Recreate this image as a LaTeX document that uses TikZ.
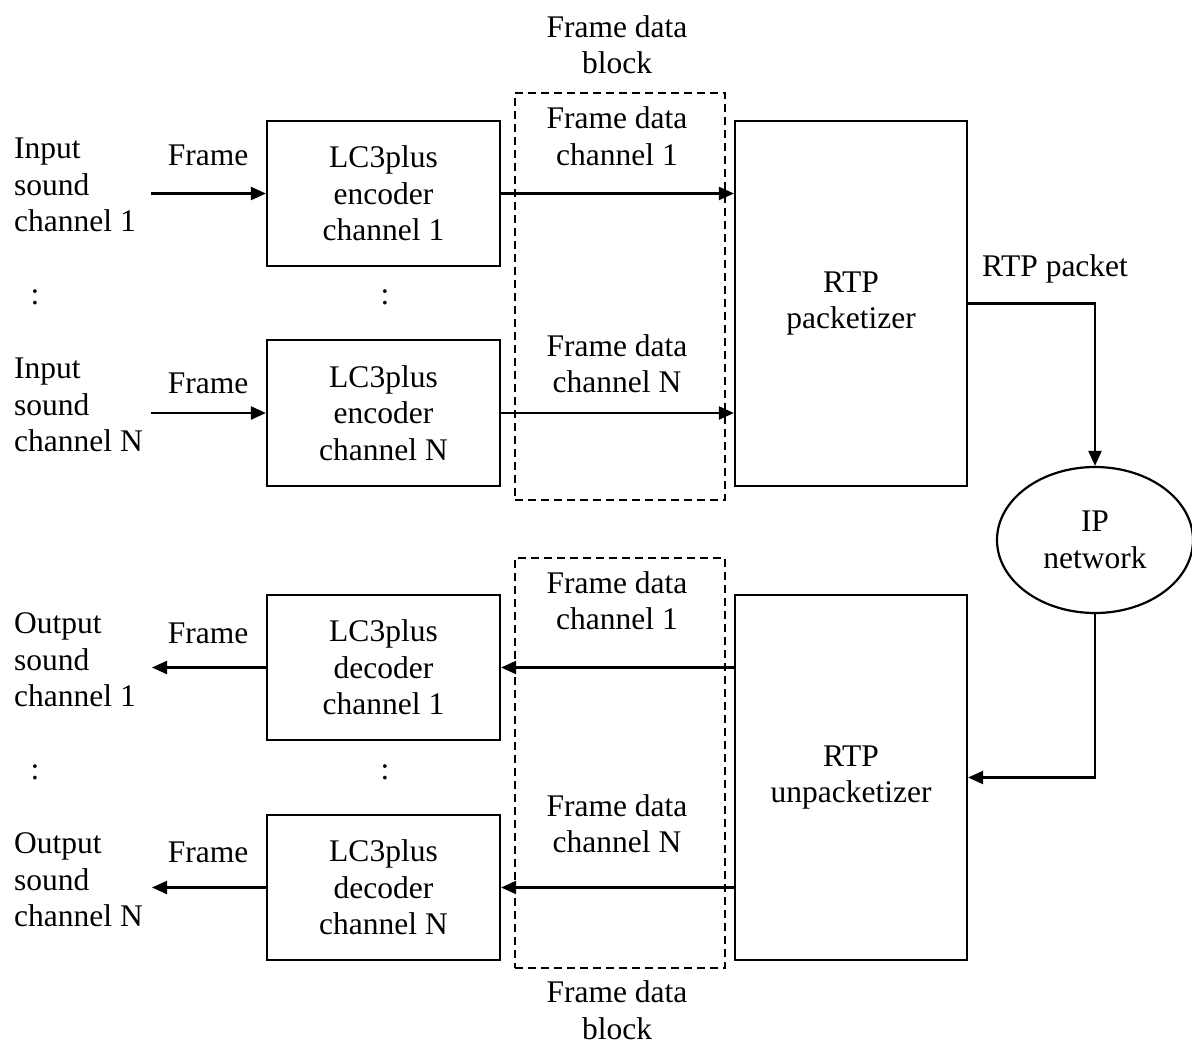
\documentclass[tikz,border=0pt]{standalone}
\usepackage{fontspec}
\setmainfont{Liberation Serif}
\usetikzlibrary{arrows.meta,shapes.geometric}
\begin{document}
\begin{tikzpicture}[x=1pt,y=-1pt,
  every node/.style={font=\fontsize{31.5}{36.5}\selectfont, inner sep=0pt, align=center},
  blk/.style={draw, line width=2.2pt, rectangle, minimum width=233pt},
  dbox/.style={draw, line width=2pt, dash pattern=on 8pt off 5pt, rectangle, minimum width=210pt},
  arr/.style={line width=2.2pt, -{Triangle[length=15pt,width=13pt]}},
  lbl/.style={anchor=west, align=left}]
\useasboundingbox (0,0) rectangle (1192,1045);
% dashed frame data blocks
\node[dbox, minimum height=407pt] (db1) at (620,296.5) {};
\node[dbox, minimum height=410pt] (db2) at (620,763) {};
% encoders
\node[blk, minimum height=145pt] (enc1) at (383.5,193.5) {LC3plus\\encoder\\channel 1};
\node[blk, minimum height=146pt] (encN) at (383.5,413) {LC3plus\\encoder\\channel N};
\node[blk, minimum height=145pt] (dec1) at (383.5,667.5) {LC3plus\\decoder\\channel 1};
\node[blk, minimum height=145pt] (decN) at (383.5,887.5) {LC3plus\\decoder\\channel N};
% RTP
\node[blk, minimum width=232pt, minimum height=365pt] (pack) at (851,303.5) {RTP\\packetizer};
\node[blk, minimum width=232pt, minimum height=365pt] (unpack) at (851,777.5) {RTP\\unpacketizer};
% IP network
\node[draw, line width=2.2pt, ellipse, minimum width=196pt, minimum height=146pt] (ip) at (1095,540) {IP\\network};
% left labels
\node[lbl] (in1) at (14,185) {Input\\sound\\channel 1};
\node[lbl] (inN) at (14,405) {Input\\sound\\channel N};
\node[lbl] (out1) at (14,660) {Output\\sound\\channel 1};
\node[lbl] (outN) at (14,880) {Output\\sound\\channel N};
\node (fr1) at (208,155) {Frame};
\node (frN) at (208,383) {Frame};
\node (fr3) at (208,633) {Frame};
\node (fr4) at (208,852) {Frame};
\node (c1) at (35,297) {:};
\node (c2) at (385,297) {:};
\node (c3) at (35,772) {:};
\node (c4) at (385,772) {:};
% frame data labels
\node (fdb1) at (617,44.5) {Frame data\\block};
\node (fd1) at (617,136) {Frame data\\channel 1};
\node (fdN) at (617,363.5) {Frame data\\channel N};
\node (fd3) at (617,600.5) {Frame data\\channel 1};
\node (fd4) at (617,823.5) {Frame data\\channel N};
\node (fdb2) at (617,1010) {Frame data\\block};
\node (rtpp) at (1055,269) {RTP packet};
% arrow free ends
\coordinate (a1) at (151,193.5);
\coordinate (aN) at (151,413);
\coordinate (a3) at (152,667.5);
\coordinate (a4) at (152,887.5);
% connectors
\draw[arr] (a1) -- (enc1.west);
\draw[arr] (aN) -- (encN.west);
\draw[arr] (enc1.east) -- (pack.west |- enc1.east);
\draw[arr] (encN.east) -- (pack.west |- encN.east);
\draw[arr] (pack.east) -| (ip.north);
\draw[arr] (ip.south) |- (unpack.east);
\draw[arr] (unpack.west |- dec1.east) -- (dec1.east);
\draw[arr] (unpack.west |- decN.east) -- (decN.east);
\draw[arr] (dec1.west) -- (a3);
\draw[arr] (decN.west) -- (a4);
\end{tikzpicture}
\end{document}
